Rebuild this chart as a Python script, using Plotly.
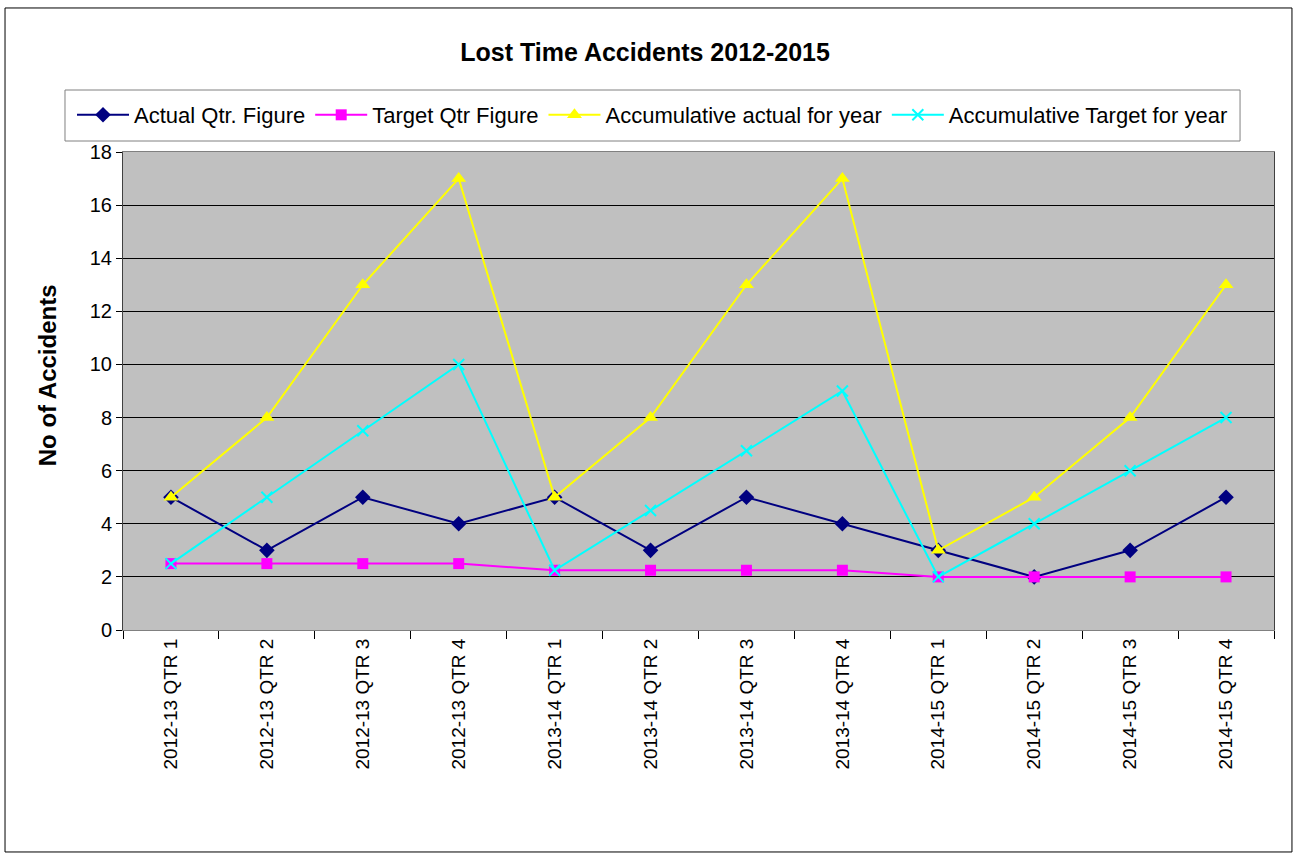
import plotly.graph_objects as go

quarters = ["2012-13 QTR 1", "2012-13 QTR 2", "2012-13 QTR 3", "2012-13 QTR 4",
            "2013-14 QTR 1", "2013-14 QTR 2", "2013-14 QTR 3", "2013-14 QTR 4",
            "2014-15 QTR 1", "2014-15 QTR 2", "2014-15 QTR 3", "2014-15 QTR 4"]
actual_qtr = [5, 3, 5, 4, 5, 3, 5, 4, 3, 2, 3, 5]
target_qtr = [2.5, 2.5, 2.5, 2.5, 2.25, 2.25, 2.25, 2.25, 2, 2, 2, 2]
accum_actual = [5, 8, 13, 17, 5, 8, 13, 17, 3, 5, 8, 13]
accum_target = [2.5, 5, 7.5, 10, 2.25, 4.5, 6.75, 9, 2, 4, 6, 8]

FONT = "Liberation Sans, Arial, sans-serif"

fig = go.Figure()

# series in legend order
fig.add_trace(go.Scatter(
    x=quarters, y=actual_qtr, name="Actual Qtr. Figure", mode="lines+markers",
    line=dict(color="#000080", width=2),
    marker=dict(symbol="diamond", size=12, color="#000080")
))
fig.add_trace(go.Scatter(
    x=quarters, y=target_qtr, name="Target Qtr Figure", mode="lines+markers",
    line=dict(color="#FF00FF", width=2),
    marker=dict(symbol="square", size=11, color="#FF00FF")
))
fig.add_trace(go.Scatter(
    x=quarters, y=accum_actual, name="Accumulative actual for year", mode="lines+markers",
    line=dict(color="#FFFF00", width=2),
    marker=dict(symbol="triangle-up", size=13, color="#FFFF00")
))
fig.add_trace(go.Scatter(
    x=quarters, y=accum_target, name="Accumulative Target for year", mode="lines+markers",
    line=dict(color="#00FFFF", width=2),
    marker=dict(symbol="x-thin", size=11, line=dict(color="#00FFFF", width=2))
))

fig.update_layout(
    width=1298, height=854,
    paper_bgcolor="white",
    plot_bgcolor="#C0C0C0",
    font=dict(family=FONT, size=18, color="black"),
    margin=dict(l=123, r=24, t=152, b=224),
    title=dict(text="<b>Lost Time Accidents 2012-2015</b>", x=0.497, xanchor="center",
               y=0.939, yanchor="middle", font=dict(size=25)),
    legend=dict(orientation="h", x=-0.0443, xanchor="left", y=1.1213, yanchor="top",
                borderwidth=0, bgcolor="rgba(0,0,0,0)",
                font=dict(size=22), itemwidth=52),
    showlegend=True,
    shapes=[
        # outer chart border
        dict(type="rect", xref="paper", yref="paper",
             x0=-0.1025, x1=1.0156, y0=-0.4644, y1=1.3013,
             line=dict(color="black", width=1), layer="below"),
        # legend box
        dict(type="rect", xref="paper", yref="paper",
             x0=-0.0504, x1=0.9705, y0=1.0230, y1=1.1297,
             line=dict(color="#808080", width=1), fillcolor="white", layer="below"),
    ],
    annotations=[dict(text="<b>No of Accidents</b>", textangle=-90, showarrow=False,
                      xref="paper", yref="paper", x=-0.066, y=0.533,
                      xanchor="center", yanchor="middle", font=dict(size=24))],
)

fig.update_xaxes(
    type="category", range=[-0.5, 11.5], tickangle=-90, tickson="boundaries",
    ticks="outside", ticklen=8, tickcolor="black",
    showgrid=False, showline=True, linecolor="#808080", mirror=True,
    tickfont=dict(size=19),
)
fig.update_yaxes(
    range=[0, 18], dtick=2, ticks="outside", ticklen=6, tickcolor="black",
    showgrid=True, gridcolor="black", gridwidth=1,
    showline=True, linecolor="#404040", mirror=True, zeroline=False,
    tickfont=dict(size=20),
)

fig.write_html("out.html", config={"displayModeBar": False},
               post_script="document.body.style.margin='0';")
